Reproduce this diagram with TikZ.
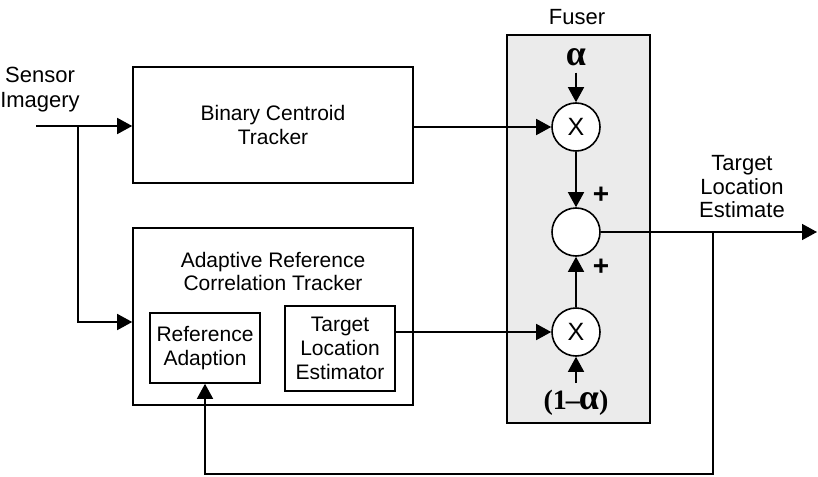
\documentclass[tikz,border=0pt]{standalone}
\usepackage{fontspec}
\setmainfont{Liberation Sans}
\newfontfamily\greekfont{Liberation Serif}
\usetikzlibrary{positioning,arrows.meta,calc}

\tikzset{
    blk/.style={draw, line width=0.8pt, align=center, inner sep=0pt},
    mult/.style={draw, circle, fill=white, line width=0.8pt, minimum size=24pt, inner sep=0pt, font=\fontsize{12.5}{12.5}\selectfont},
    lbl/.style={align=center, font=\fontsize{11}{12.5}\selectfont},
    sig/.style={line width=0.75pt, -{Triangle[length=7.5pt,width=8pt]}},
    wire/.style={line width=0.75pt}
}

\begin{document}
\begin{tikzpicture}[x=0.5pt, y=-0.5pt, font=\fontsize{10.5}{12}\selectfont]
        \useasboundingbox (0,0) rectangle (818,476);

        % Fuser
        \node[draw, line width=0.8pt, fill=black!8, minimum width=71.5pt, minimum height=194pt] (fuser) at (578.5,229) {};
        \node[lbl] (fuserlbl) at (577,17) {Fuser};

        % Eingang
        \node[lbl] (sensor) at (40,90) {Sensor\\Imagery};
        \coordinate (in) at (36,126);
        \coordinate (split) at (78,126);

        % Tracker
        \node[blk, minimum width=140pt, minimum height=58pt] (bct) at (273,125) {Binary Centroid\\Tracker};
        \node[blk, minimum width=140pt, minimum height=88.5pt] (arct) at (273,316.5) {};
        \node[lbl, font=\fontsize{10.5}{11.5}\selectfont] (arcttitle) at (273,271) {Adaptive Reference\\Correlation Tracker};
        \node[blk, minimum width=55pt, minimum height=35pt] (refad) at (205,348) {Reference\\Adaption};
        \node[blk, minimum width=55pt, minimum height=42.5pt] (tle) at (340,348.5) {Target\\Location\\Estimator};

        % Multiplizierer und Summe
        \node[mult] (x1) at (576,127) {X};
        \node[mult] (sum) at (576,232) {};
        \node[mult] (x2) at (576,332) {X};
        \node (alpha) at (576,57) {\greekfont\bfseries\fontsize{18}{18}\selectfont α};
        \node (oneminus) at (576,403) {\greekfont\bfseries\fontsize{14}{14}\selectfont (1\kern-0.5pt{}–\kern-0.5pt{\fontsize{18}{14}\selectfont α})};
        \node (plusa) at (601,195) {\bfseries\fontsize{14}{14}\selectfont +};
        \node (plusb) at (601,267) {\bfseries\fontsize{14}{14}\selectfont +};

        % Ausgang
        \node[lbl, font=\fontsize{11}{11.75}\selectfont] (outlbl) at (742,187) {Target\\Location\\Estimate};
        \coordinate (out) at (817,232);
        \coordinate (tap) at (713,232);

        % Verbindungen
        \draw[sig] (in) -- (bct.west |- in);
        \draw[sig] (split) |- (arct.west |- 0,322);
        \draw[sig] (bct.east |- x1) -- (x1);
        \draw[sig] (tle.east |- x2) -- (x2);
        \draw[sig] (alpha.south) -- (x1);
        \draw[sig] (oneminus.north) -- (x2);
        \draw[sig] (x1) -- (sum);
        \draw[sig] (x2) -- (sum);
        \draw[sig] (sum) -- (out);
        \draw[sig] (tap) -- ++(0,242) -| (refad.south);
    \end{tikzpicture}
\end{document}
